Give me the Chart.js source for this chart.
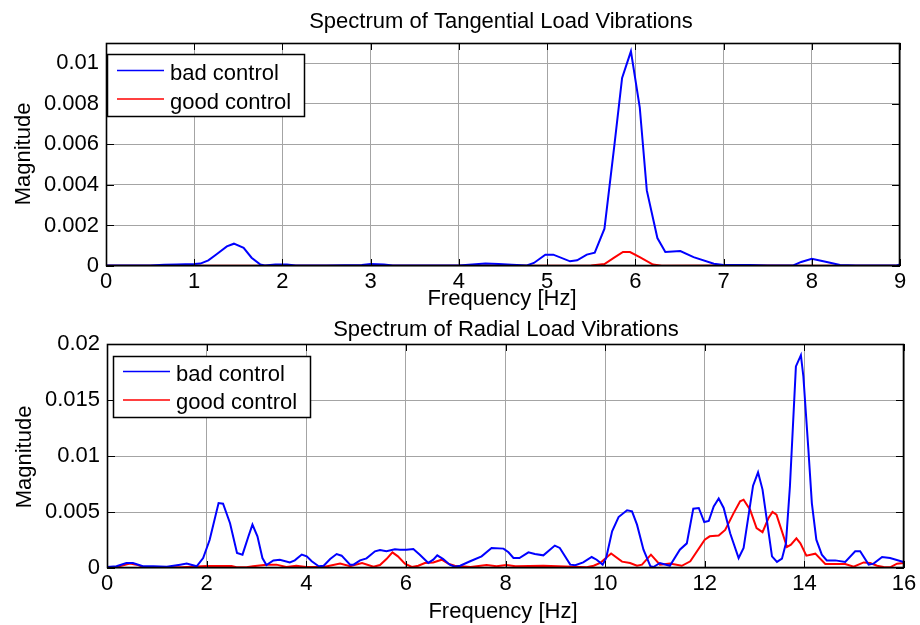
<!DOCTYPE html>
<html><head><meta charset="utf-8">
<script src="https://cdn.jsdelivr.net/npm/chart.js@4.4.1/dist/chart.umd.min.js"></script>
<style>html,body{margin:0;padding:0;background:#fff;width:920px;height:625px;overflow:hidden;} canvas{position:absolute;left:0;}</style>
</head><body>
<canvas id="c1" width="920" height="312" style="top:0;width:920px;height:312px"></canvas>
<canvas id="c2" width="920" height="313" style="top:312px;width:920px;height:313px"></canvas>
<script>
// ---------- Data: Tangential load vibrations ----------
const tanBadFreq = [0,0.5,0.66,0.8,1.0,1.07,1.16,1.25,1.37,1.45,1.56,1.65,1.75,1.8,1.92,2.05,2.15,2.5,2.9,3.0,3.15,3.25,4.0,4.15,4.3,4.45,4.6,4.77,4.85,4.98,5.07,5.26,5.34,5.45,5.54,5.65,5.76,5.85,5.95,6.05,6.13,6.25,6.34,6.51,6.66,6.89,7.0,7.3,7.5,7.79,7.88,8.0,8.17,8.32,8.5,8.95,9.0];
const tanBadMag  = [0.00003,0.00003,0.00006,0.00008,0.0001,0.00012,0.00028,0.00057,0.00097,0.0011,0.0009,0.00041,0.00007,0.00002,0.00008,0.00008,0.00002,0.00002,0.00005,0.0001,0.00008,0.00002,0.00002,0.00008,0.00012,0.0001,0.00006,0.00003,0.00015,0.00056,0.00056,0.00023,0.00028,0.00056,0.00066,0.00184,0.00586,0.00928,0.01059,0.00783,0.00373,0.00138,0.00069,0.00074,0.00044,0.00011,0.00005,0.00005,0.00002,0.00003,0.0002,0.00036,0.0002,0.00005,0.00002,0.00002,0.00008];
const tanGoodFreq = [0,2.0,4.0,5.5,5.65,5.76,5.86,5.94,6.05,6.2,6.3,7.2,8.0,9.0];
const tanGoodMag  = [0.00001,0.00001,0.00001,0.00003,0.0001,0.00041,0.00069,0.00069,0.00044,0.00007,0.00001,0.00002,0.00001,0.00001];
const tanXTicks = [0,1,2,3,4,5,6,7,8,9];
const tanXLabels = ['0','1','2','3','4','5','6','7','8','9'];
const tanYTicks = [0,0.002,0.004,0.006,0.008,0.01];
const tanYLabels = ['0','0.002','0.004','0.006','0.008','0.01'];

// ---------- Data: Radial load vibrations ----------
const radBadFreq = [0,0.19,0.39,0.52,0.72,0.93,1.2,1.47,1.6,1.8,1.93,2.06,2.24,2.33,2.47,2.61,2.72,2.84,2.92,3.02,3.12,3.2,3.34,3.47,3.67,3.77,3.91,4.01,4.11,4.25,4.35,4.48,4.61,4.71,4.88,4.95,5.08,5.21,5.38,5.48,5.61,5.78,5.88,6.01,6.15,6.28,6.45,6.55,6.63,6.75,6.88,6.98,7.09,7.29,7.52,7.72,7.96,8.06,8.16,8.28,8.46,8.59,8.76,8.99,9.09,9.3,9.4,9.56,9.73,9.83,9.95,10.02,10.14,10.27,10.44,10.54,10.64,10.77,10.91,10.97,11.1,11.3,11.5,11.64,11.77,11.88,11.99,12.08,12.18,12.28,12.38,12.51,12.68,12.78,12.97,13.07,13.16,13.35,13.45,13.55,13.63,13.71,13.83,13.93,13.98,14.08,14.15,14.24,14.35,14.45,14.62,14.82,15.02,15.12,15.29,15.39,15.56,15.72,15.99,16.0];
const radBadMag  = [0.0001,0.00015,0.00045,0.00045,0.00015,0.00015,0.00012,0.0003,0.00039,0.00015,0.00089,0.0025,0.0058,0.00574,0.004,0.00134,0.00119,0.00283,0.00387,0.00283,0.00089,0.00027,0.00068,0.00074,0.0005,0.00068,0.0012,0.00104,0.0006,0.00015,0.0002,0.0008,0.00125,0.0011,0.0003,0.0003,0.00068,0.00086,0.00149,0.0016,0.00149,0.00167,0.00164,0.00164,0.0017,0.00119,0.00045,0.00074,0.00113,0.0008,0.0003,0.00012,0.0002,0.0006,0.00104,0.00179,0.00173,0.0014,0.00089,0.00089,0.0014,0.00125,0.00113,0.002,0.00179,0.0003,0.00024,0.0005,0.00098,0.00074,0.0003,0.00089,0.00327,0.00455,0.00515,0.00506,0.00387,0.00164,0.00015,0.00009,0.00045,0.0002,0.00164,0.0022,0.0053,0.00536,0.0041,0.0042,0.0055,0.0062,0.00536,0.0031,0.00089,0.00179,0.00735,0.00854,0.007,0.00104,0.00054,0.00083,0.0022,0.0073,0.018,0.019,0.0171,0.0106,0.0058,0.00253,0.00119,0.00068,0.00068,0.00054,0.00149,0.00149,0.0003,0.00039,0.00098,0.00089,0.00054,0.00054];
const radGoodFreq = [0,0.19,0.46,0.59,0.72,1.0,1.5,2.0,2.5,2.6,2.8,2.93,3.2,3.4,3.6,3.8,4.0,4.35,4.68,4.88,5.12,5.35,5.48,5.61,5.73,5.84,5.98,6.12,6.25,6.38,6.55,6.72,6.85,6.98,7.3,7.62,7.82,8.02,8.2,8.76,9.5,9.63,9.77,9.9,10.12,10.34,10.5,10.64,10.74,10.92,11.1,11.3,11.54,11.71,12.0,12.1,12.28,12.41,12.58,12.71,12.78,12.91,13.04,13.16,13.28,13.36,13.44,13.55,13.65,13.73,13.84,13.92,14.04,14.22,14.42,14.82,14.99,15.19,15.32,15.46,15.59,15.72,15.86,16.0];
const radGoodMag  = [0.00006,0.00009,0.00039,0.0003,0.00012,0.00006,0.00006,0.00018,0.00018,0.00006,0.00006,0.00015,0.0003,0.0003,0.00009,0.0002,0.00009,0.00009,0.00039,0.00015,0.00045,0.00012,0.00027,0.0008,0.0014,0.00104,0.00039,0.0001,0.0002,0.00045,0.0005,0.00074,0.00039,0.0002,0.0001,0.00027,0.00015,0.00027,0.00015,0.0002,0.00009,0.00006,0.0002,0.00045,0.0013,0.00057,0.00045,0.0002,0.0003,0.00119,0.0003,0.00039,0.0002,0.0006,0.00253,0.00283,0.0029,0.0034,0.0049,0.00595,0.0061,0.0052,0.00357,0.0032,0.00446,0.005,0.00476,0.00327,0.00187,0.00208,0.00265,0.0022,0.0011,0.00128,0.00036,0.00036,0.00012,0.0005,0.00045,0.0002,0.00009,0.00006,0.00039,0.00045];
const radXTicks = [0,2,4,6,8,10,12,14,16];
const radXLabels = ['0','2','4','6','8','10','12','14','16'];
const radYTicks = [0,0.005,0.01,0.015,0.02];
const radYLabels = ['0','0.005','0.01','0.015','0.02'];

const seriesNames = ['bad control','good control'];
const xTitle = 'Frequency [Hz]';
const yTitle = 'Magnitude';

// ---------- Rendering ----------
const FONT = "'Liberation Sans', Arial, Helvetica, sans-serif";
Chart.defaults.font.family = FONT;
Chart.defaults.font.size = 22;
Chart.defaults.color = '#000';

const pts = (xs, ys) => xs.map((x, i) => ({x: x, y: ys[i]}));

const decoPlugin = {
  id: 'deco',
  afterDraw(chart, args, o) {
    const ctx = chart.ctx, a = chart.chartArea;
    const sx = chart.scales.x, sy = chart.scales.y;
    ctx.save();
    ctx.strokeStyle = '#000';
    ctx.lineWidth = 1;
    // inward ticks
    ctx.beginPath();
    sx.ticks.forEach(t => {
      const p = Math.round(sx.getPixelForValue(t.value)) + 0.5;
      ctx.moveTo(p, a.top); ctx.lineTo(p, a.top + 7);
      ctx.moveTo(p, a.bottom); ctx.lineTo(p, a.bottom - 7);
    });
    sy.ticks.forEach(t => {
      const p = Math.round(sy.getPixelForValue(t.value)) + 0.5;
      ctx.moveTo(a.left, p); ctx.lineTo(a.left + 8, p);
      ctx.moveTo(a.right, p); ctx.lineTo(a.right - 8, p);
    });
    ctx.stroke();
    // axes box
    ctx.lineWidth = 1.6;
    ctx.strokeRect(Math.round(a.left) + 0.5, Math.round(a.top) + 0.5, Math.round(a.right - a.left) - 1, Math.round(a.bottom - a.top) - 1);
    // legend
    const L = o.legend;
    ctx.fillStyle = '#fff';
    ctx.fillRect(L.x0, L.y0, L.x1 - L.x0, L.y1 - L.y0);
    ctx.lineWidth = 1.5;
    ctx.strokeRect(L.x0 + 0.5, L.y0 + 0.5, L.x1 - L.x0, L.y1 - L.y0);
    ctx.font = '22px ' + FONT;
    ctx.textAlign = 'left';
    ctx.textBaseline = 'alphabetic';
    chart.data.datasets.forEach((ds, i) => {
      ctx.strokeStyle = ds.borderColor;
      ctx.lineWidth = 1.3;
      ctx.beginPath();
      ctx.moveTo(L.lx0, L.ly[i]); ctx.lineTo(L.lx1, L.ly[i]);
      ctx.stroke();
      ctx.fillStyle = '#000';
      ctx.fillText(ds.label, L.tx, L.tb[i]);
    });
    // titles
    ctx.fillStyle = '#000';
    ctx.textAlign = 'center';
    ctx.fillText(o.title, o.titleX, o.titleY);
    ctx.fillText(o.xTitle, o.xTitleX, o.xTitleY);
    ctx.save();
    ctx.translate(o.yTitleX, o.yTitleY);
    ctx.rotate(-Math.PI / 2);
    ctx.fillText(o.yTitle, 0, 0);
    ctx.restore();
    ctx.restore();
  }
};

function makeChart(id, cfg) {
  return new Chart(document.getElementById(id), {
    type: 'line',
    data: {
      datasets: [
        {label: seriesNames[0], data: pts(cfg.badF, cfg.badM), borderColor: '#0000ff', borderWidth: 2, pointRadius: 0, tension: 0, fill: false},
        {label: seriesNames[1], data: pts(cfg.goodF, cfg.goodM), borderColor: '#ff0000', borderWidth: 2, pointRadius: 0, tension: 0, fill: false}
      ]
    },
    options: {
      responsive: false,
      animation: false,
      devicePixelRatio: 1,
      events: [],
      layout: {padding: {top: cfg.padTop, left: 0, right: cfg.padRight, bottom: 0}},
      plugins: {legend: {display: false}, tooltip: {enabled: false}, deco: cfg.deco},
      scales: {
        x: {
          type: 'linear', min: cfg.xTicks[0], max: cfg.xTicks[cfg.xTicks.length - 1],
          afterFit: s => { s.height = cfg.xHeight; },
          afterBuildTicks: s => { s.ticks = cfg.xTicks.map(v => ({value: v})); },
          ticks: {padding: 3, maxRotation: 0, autoSkip: false, callback: (v, i) => cfg.xLabels[i], font: {size: 22}},
          grid: {color: '#a4a4a4', lineWidth: 1, drawTicks: false},
          border: {display: false}
        },
        y: {
          type: 'linear', min: 0, max: cfg.yMax,
          afterFit: s => { s.width = cfg.yWidth; },
          afterBuildTicks: s => { s.ticks = cfg.yTicks.map(v => ({value: v})); },
          ticks: {padding: 7, autoSkip: false, callback: (v, i) => cfg.yLabels[i], font: {size: 22}},
          grid: {color: '#a4a4a4', lineWidth: 1, drawTicks: false},
          border: {display: false}
        }
      }
    },
    plugins: [decoPlugin]
  });
}

makeChart('c1', {
  badF: tanBadFreq, badM: tanBadMag, goodF: tanGoodFreq, goodM: tanGoodMag,
  xTicks: tanXTicks, xLabels: tanXLabels, yTicks: tanYTicks, yLabels: tanYLabels, yMax: 0.011,
  padTop: 43, padRight: 20, yWidth: 106, xHeight: 46,
  deco: {
    title: 'Spectrum of Tangential Load Vibrations', titleX: 501, titleY: 27.5,
    xTitle: xTitle, xTitleX: 502, xTitleY: 305,
    yTitle: yTitle, yTitleX: 30, yTitleY: 154,
    legend: {x0: 107, y0: 54, x1: 304, y1: 116, lx0: 117, lx1: 164, ly: [70.5, 99], tx: 170, tb: [80, 108.5]}
  }
});

makeChart('c2', {
  badF: radBadFreq, badM: radBadMag, goodF: radGoodFreq, goodM: radGoodMag,
  xTicks: radXTicks, xLabels: radXLabels, yTicks: radYTicks, yLabels: radYLabels, yMax: 0.02,
  padTop: 32, padRight: 16, yWidth: 107, xHeight: 57,
  deco: {
    title: 'Spectrum of Radial Load Vibrations', titleX: 506, titleY: 23.5,
    xTitle: xTitle, xTitleX: 503, xTitleY: 306,
    yTitle: yTitle, yTitleX: 31, yTitleY: 145,
    legend: {x0: 113, y0: 44, x1: 310, y1: 105, lx0: 123, lx1: 170, ly: [59.5, 88], tx: 176, tb: [68.7, 97.3]}
  }
});
</script>
</body></html>
